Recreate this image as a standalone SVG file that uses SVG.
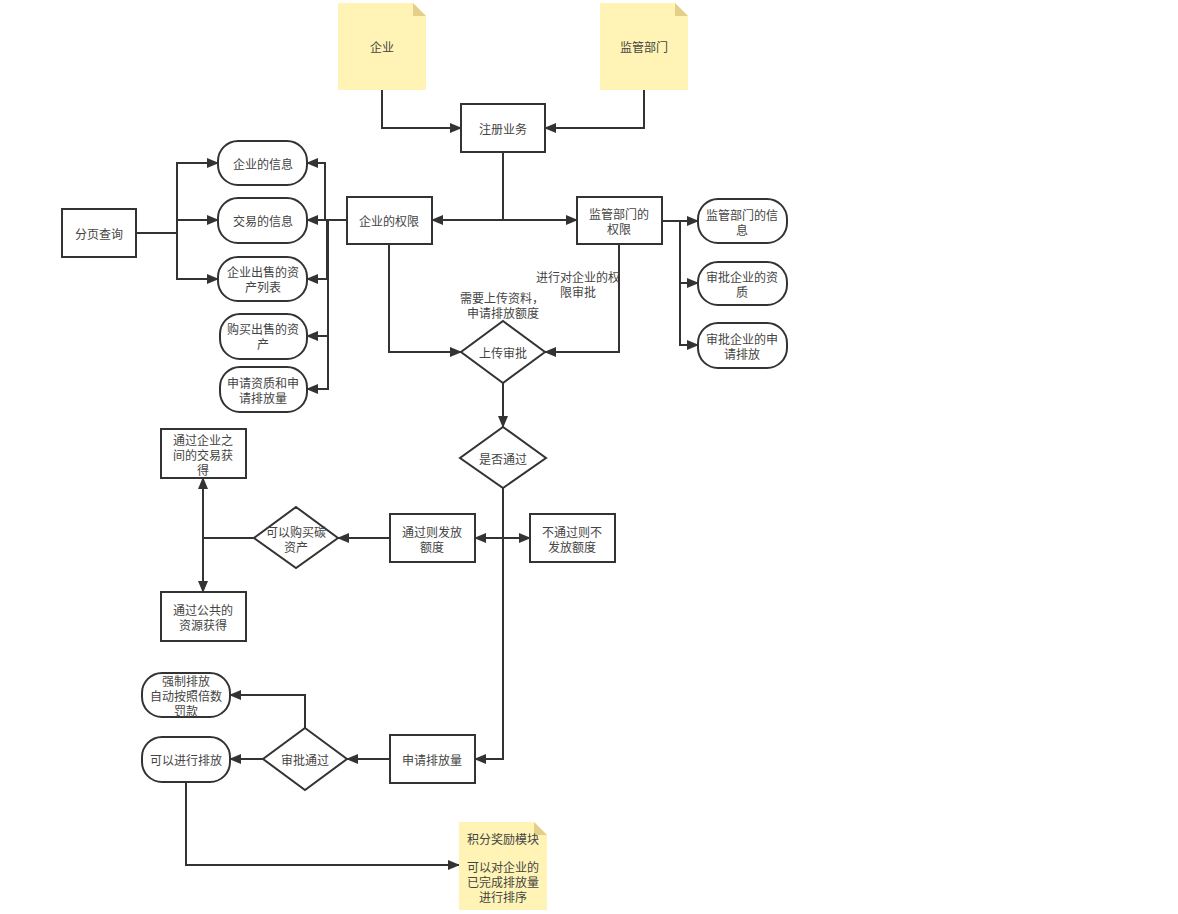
<svg xmlns="http://www.w3.org/2000/svg" width="1178" height="914" viewBox="0 0 1178 914">
<defs>
<marker id="ah" markerUnits="userSpaceOnUse" markerWidth="12" markerHeight="10" refX="11" refY="5" orient="auto">
<path d="M0,0 L12,5 L0,10 Z" fill="#333"/>
</marker>
<style>
.box{fill:#fff;stroke:#333;stroke-width:2}
.note{fill:#fff4b5}
.fold{fill:#e3cf87}
.t{font-family:"Noto Sans CJK SC","Liberation Sans",sans-serif;font-size:12px;fill:#444;text-anchor:middle;dominant-baseline:central}
.c{fill:none;stroke:#333;stroke-width:2;marker-end:url(#ah)}
.l{fill:none;stroke:#333;stroke-width:2}
</style>
</defs>
<rect width="1178" height="914" fill="#fff"/>
<g id="connectors">
<path class="c" d="M382,90 V128 H461"/>
<path class="c" d="M644,90 V128 H545"/>
<path class="c" d="M503,152 V220 H432"/>
<path class="c" d="M503,152 V220 H577"/>
<path class="c" d="M136,233 H177 V163 H218"/>
<path class="c" d="M136,233 H177 V220 H218"/>
<path class="c" d="M136,233 H177 V279 H218"/>
<path class="c" d="M347,220 H325 V163 H307"/>
<path class="c" d="M347,220 H307"/>
<path class="c" d="M347,220 H327 V279 H307"/>
<path class="c" d="M347,220 H328 V336 H307"/>
<path class="c" d="M347,220 H328 V389 H307"/>
<path class="c" d="M662,221 H680 V221 H698"/>
<path class="c" d="M662,221 H680 V283 H698"/>
<path class="c" d="M662,221 H680 V345 H698"/>
<path class="c" d="M389,244 V352 H461"/>
<path class="c" d="M619,244 V352 H545"/>
<path class="c" d="M503,383 V427"/>
<path class="c" d="M503,488 V538 H475"/>
<path class="c" d="M503,488 V538 H530"/>
<path class="c" d="M503,488 V759 H475"/>
<path class="c" d="M390,538 H338"/>
<path class="c" d="M254,538 H203 V478"/>
<path class="c" d="M254,538 H203 V592"/>
<path class="c" d="M390,759 H347"/>
<path class="c" d="M263,759 H230"/>
<path class="c" d="M305,728 V695 H230"/>
<path class="c" d="M186,782 V865 H459"/>
</g>
<g id="n-qiye">
<path class="note" d="M338,3 H413 L426,16 V90 H338 Z"/>
<path class="fold" d="M413,3 L426,16 H413 Z"/>
<text class="t" x="382" y="46">企业</text>
</g>
<g id="n-jianguan">
<path class="note" d="M600,3 H675 L688,16 V90 H600 Z"/>
<path class="fold" d="M675,3 L688,16 H675 Z"/>
<text class="t" x="644" y="46">监管部门</text>
</g>
<g id="n-zhuce">
<rect class="box" x="461" y="104" width="84" height="48"/>
<text class="t" x="503" y="128">注册业务</text>
</g>
<g id="n-qiyequanxian">
<rect class="box" x="347" y="197" width="85" height="47"/>
<text class="t" x="389" y="220">企业的权限</text>
</g>
<g id="n-jianguanquanxian">
<rect class="box" x="577" y="197" width="85" height="47"/>
<text class="t" x="619" y="213">监管部门的</text>
<text class="t" x="619" y="228">权限</text>
</g>
<g id="n-fenye">
<rect class="box" x="62" y="209" width="74" height="48"/>
<text class="t" x="99" y="233">分页查询</text>
</g>
<g id="n-l1">
<rect class="box" x="218" y="141" width="89" height="44" rx="20"/>
<text class="t" x="263" y="163">企业的信息</text>
</g>
<g id="n-l2">
<rect class="box" x="218" y="198" width="89" height="45" rx="20"/>
<text class="t" x="263" y="220">交易的信息</text>
</g>
<g id="n-l3">
<rect class="box" x="218" y="257" width="89" height="44" rx="20"/>
<text class="t" x="263" y="271">企业出售的资</text>
<text class="t" x="263" y="286">产列表</text>
</g>
<g id="n-l4">
<rect class="box" x="220" y="314" width="87" height="45" rx="20"/>
<text class="t" x="263" y="328">购买出售的资</text>
<text class="t" x="263" y="343">产</text>
</g>
<g id="n-l5">
<rect class="box" x="220" y="367" width="87" height="45" rx="20"/>
<text class="t" x="263" y="382">申请资质和申</text>
<text class="t" x="263" y="397">请排放量</text>
</g>
<g id="n-r1">
<rect class="box" x="698" y="199" width="89" height="44" rx="20"/>
<text class="t" x="742" y="214">监管部门的信</text>
<text class="t" x="742" y="229">息</text>
</g>
<g id="n-r2">
<rect class="box" x="698" y="262" width="89" height="43" rx="20"/>
<text class="t" x="742" y="276">审批企业的资</text>
<text class="t" x="742" y="291">质</text>
</g>
<g id="n-r3">
<rect class="box" x="698" y="323" width="89" height="45" rx="20"/>
<text class="t" x="742" y="338">审批企业的申</text>
<text class="t" x="742" y="353">请排放</text>
</g>
<g id="lbl-1">
<text class="t" x="578" y="276">进行对企业的权</text>
<text class="t" x="578" y="291">限审批</text>
</g>
<g id="lbl-2">
<text class="t" x="502" y="297">需要上传资料，</text>
<text class="t" x="503" y="312">申请排放额度</text>
</g>
<g id="n-shangchuan">
<path class="box" d="M503,321 L545,352 L503,383 L461,352 Z"/>
<text class="t" x="503" y="352">上传审批</text>
</g>
<g id="n-shifou">
<path class="box" d="M503,427 L546,458 L503,488 L460,458 Z"/>
<text class="t" x="503" y="458">是否通过</text>
</g>
<g id="n-tongguo">
<rect class="box" x="390" y="514" width="85" height="48"/>
<text class="t" x="432" y="531">通过则发放</text>
<text class="t" x="432" y="546">额度</text>
</g>
<g id="n-butongguo">
<rect class="box" x="530" y="514" width="85" height="48"/>
<text class="t" x="572" y="531">不通过则不</text>
<text class="t" x="572" y="546">发放额度</text>
</g>
<g id="n-goumai">
<path class="box" d="M296,507 L338,538 L296,568 L254,538 Z"/>
<text class="t" x="296" y="531">可以购买碳</text>
<text class="t" x="296" y="546">资产</text>
</g>
<g id="n-jiaoyi">
<rect class="box" x="161" y="429" width="85" height="49"/>
<text class="t" x="203" y="439">通过企业之</text>
<text class="t" x="203" y="454">间的交易获</text>
<text class="t" x="203" y="469">得</text>
</g>
<g id="n-gonggong">
<rect class="box" x="161" y="592" width="85" height="49"/>
<text class="t" x="203" y="609">通过公共的</text>
<text class="t" x="203" y="624">资源获得</text>
</g>
<g id="n-shenqing">
<rect class="box" x="390" y="735" width="85" height="48"/>
<text class="t" x="432" y="759">申请排放量</text>
</g>
<g id="n-shenpi">
<path class="box" d="M305,728 L347,759 L305,790 L263,759 Z"/>
<text class="t" x="305" y="759">审批通过</text>
</g>
<g id="n-keyi">
<rect class="box" x="142" y="737" width="88" height="45" rx="20"/>
<text class="t" x="186" y="759">可以进行排放</text>
</g>
<g id="n-qiangzhi">
<rect class="box" x="142" y="673" width="88" height="44" rx="20"/>
<text class="t" x="186" y="680">强制排放</text>
<text class="t" x="186" y="695">自动按照倍数</text>
<text class="t" x="186" y="710">罚款</text>
</g>
<g id="n-jifen">
<path class="note" d="M459,822 H534 L547,835 V910 H459 Z"/>
<path class="fold" d="M534,822 L547,835 H534 Z"/>
<text class="t" x="503" y="838">积分奖励模块</text>
<text class="t" x="503" y="866">可以对企业的</text>
<text class="t" x="503" y="881">已完成排放量</text>
<text class="t" x="503" y="896">进行排序</text>
</g>
</svg>
